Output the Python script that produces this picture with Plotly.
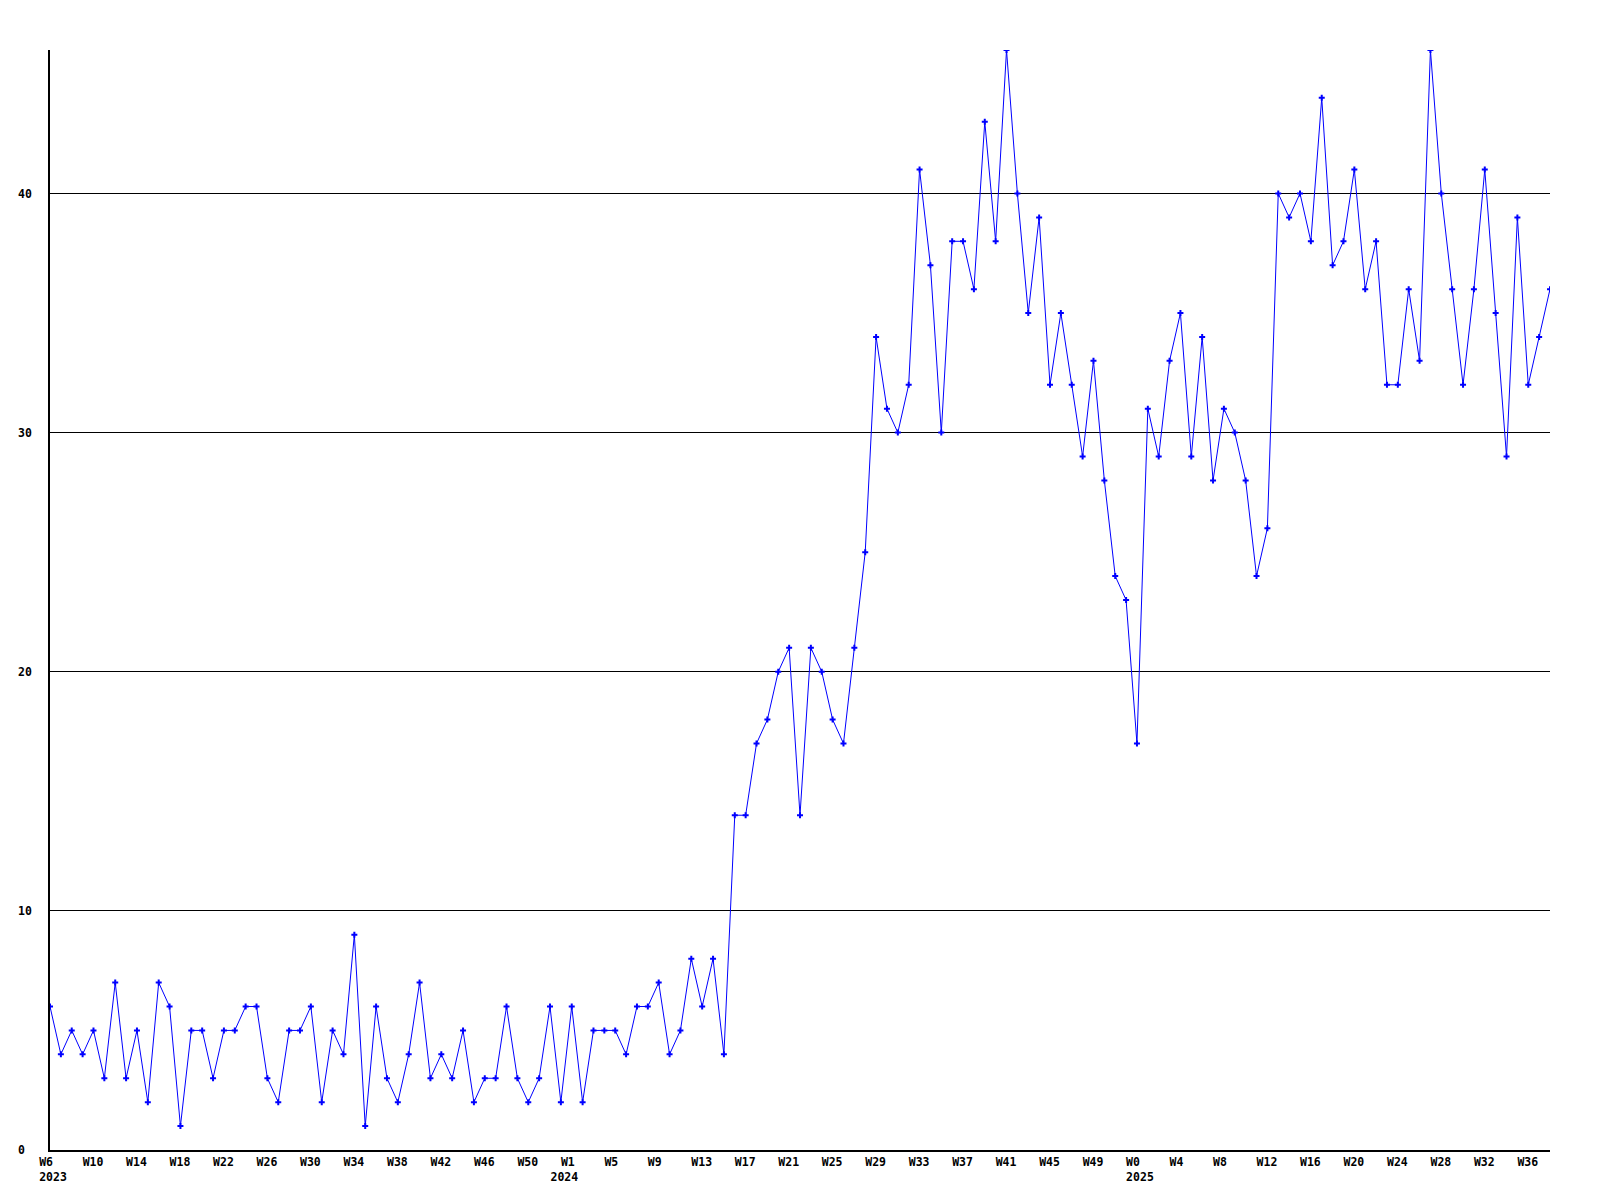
import plotly.graph_objects as go

# weekly counts, one per week from 2023 W6 to 2025 W38
values = [
    6, 4, 5, 4, 5, 3, 7, 3, 5, 2, 7, 6, 1, 5, 5, 3, 5, 5, 6, 6,
    3, 2, 5, 5, 6, 2, 5, 4, 9, 1, 6, 3, 2, 4, 7, 3, 4, 3, 5, 2,
    3, 3, 6, 3, 2, 3, 6, 2, 6, 2, 5, 5, 5, 4, 6, 6, 7, 4, 5, 8,
    6, 8, 4, 14, 14, 17, 18, 20, 21, 14, 21, 20, 18, 17, 21, 25, 34, 31, 30, 32,
    41, 37, 30, 38, 38, 36, 43, 38, 46, 40, 35, 39, 32, 35, 32, 29, 33, 28, 24, 23,
    17, 31, 29, 33, 35, 29, 34, 28, 31, 30, 28, 24, 26, 40, 39, 40, 38, 44, 37, 38,
    41, 36, 38, 32, 32, 36, 33, 46, 40, 36, 32, 36, 41, 35, 29, 39, 32, 34, 36,
]

# tick labels on the x axis (every 4th week) and their point index
tick_index = [0, 4, 8, 12, 16, 20, 24, 28, 32, 36, 40, 44,
              48, 52, 56, 60, 64, 68, 72, 76, 80, 84, 88, 92, 96,
              100, 104, 108, 112, 116, 120, 124, 128, 132, 136]
tick_week = ["W6", "W10", "W14", "W18", "W22", "W26", "W30", "W34", "W38", "W42", "W46", "W50",
             "W1", "W5", "W9", "W13", "W17", "W21", "W25", "W29", "W33", "W37", "W41", "W45", "W49",
             "W0", "W4", "W8", "W12", "W16", "W20", "W24", "W28", "W32", "W36"]
tick_year = {0: "2023", 48: "2024", 100: "2025"}
# the 2024 year label sits a little left of its week label
year_extra_pad = {48: 3}

y_ticks = [0, 10, 20, 30, 40]

NB = "\u00a0"


def pad(s, n=4):
    return s + NB * (n - len(s))


ticktext = []
for i, w in zip(tick_index, tick_week):
    t = pad(w)
    if i in tick_year:
        t += "<br>" + pad(tick_year[i], 4 + year_extra_pad.get(i, 0))
    ticktext.append(t)

x = list(range(len(values)))

font = dict(family="DejaVu Sans Mono", size=11.5, color="black", weight="bold")

fig = go.Figure()
fig.add_trace(go.Scatter(
    x=x, y=values, mode="lines+markers",
    line=dict(color="#0000ff", width=1),
    marker=dict(symbol="cross", size=5, color="#0000ff", line=dict(width=0)),
    showlegend=False, hoverinfo="y",
))

fig.update_layout(
    width=1584, height=1184,
    margin=dict(l=42, r=42, t=42, b=42, autoexpand=False),
    paper_bgcolor="white", plot_bgcolor="white",
    font=font,
    xaxis=dict(
        range=[0, len(values) - 1],
        tickmode="array", tickvals=tick_index, ticktext=ticktext,
        showgrid=False, zeroline=False,
        showline=True, linecolor="black", linewidth=1.5,
        ticks="", tickfont=font, tickangle=0,
        ticklabelshift=3, ticklabelstandoff=0,
        automargin=False,
    ),
    yaxis=dict(
        range=[0, 46],
        tickmode="array", tickvals=y_ticks,
        ticktext=[pad(str(v), 2) for v in y_ticks],
        showgrid=True, gridcolor="black", gridwidth=1,
        zeroline=False,
        showline=True, linecolor="black", linewidth=1.5,
        ticks="", tickfont=font, ticklabelstandoff=14,
        automargin=False,
    ),
)

fig.write_html("out.html")
